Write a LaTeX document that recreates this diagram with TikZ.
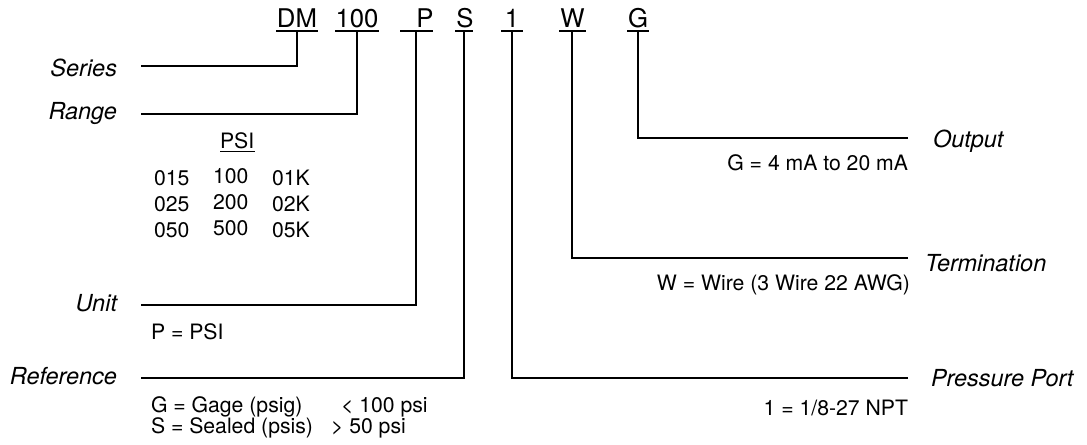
\documentclass[tikz,border=0pt]{standalone}
\usepackage{fontspec}
\setmainfont{TeX Gyre Heros}
\begin{document}
\begin{tikzpicture}[x=0.75pt,y=-0.75pt,
  lab/.style={font=\fontsize{17.6}{20}\selectfont\itshape, inner sep=0pt, outer sep=0pt},
  txt/.style={font=\fontsize{15.9}{19}\selectfont, inner sep=0pt, outer sep=0pt},
  code/.style={font=\fontsize{19.3}{23}\selectfont, inner sep=0pt, outer sep=0pt},
  wire/.style={line width=1.15pt, line cap=butt, line join=miter},
  uline/.style={line width=1pt}]
\useasboundingbox (0,0) rectangle (1087,444);

% --- code letters on top
\node[code, anchor=base] (cDM) at (297,27) {DM};
\node[code, anchor=base] (c100) at (357,27) {100};
\node[code, anchor=base] (cP) at (425,27) {P};
\node[code, anchor=base] (cS) at (465,27) {S};
\node[code, anchor=base] (c1) at (512,27) {1};
\node[code, anchor=base] (cW) at (572.5,27) {W};
\node[code, anchor=base] (cG) at (638,27) {G};

% underlines
\draw[uline] (276,31) -- (318,31);
\draw[uline] (335,31) -- (379,31);
\draw[uline] (400,31) -- (433,31);
\draw[uline] (455,31) -- (473,31);
\draw[uline] (501,31) -- (523,31);
\draw[uline] (559,31) -- (586,31);
\draw[uline] (627,31) -- (649,31);

% connector top points
\coordinate (uDM) at (297,31);
\coordinate (u100) at (357,31);
\coordinate (uP) at (416,31);
\coordinate (uS) at (464,31);
\coordinate (u1) at (512,31);
\coordinate (uW) at (572,31);
\coordinate (uG) at (638,31);

% line ends at the labels
\coordinate (eSeries) at (141,66);
\coordinate (eRange) at (141,114);
\coordinate (eUnit) at (141,305);
\coordinate (eRef) at (141,378);
\coordinate (eOut) at (908,138);
\coordinate (eTerm) at (908,258);
\coordinate (ePort) at (908,378);

% labels left
\node[lab, anchor=base east] (lSeries) at (117,76) {Series};
\node[lab, anchor=base east] (lRange) at (117,119) {Range};
\node[lab, anchor=base east] (lUnit) at (117,311) {Unit};
\node[lab, anchor=base east] (lRef) at (117,384) {Reference};
% labels right
\node[lab, anchor=base west] (lOut) at (933,147) {Output};
\node[lab, anchor=base west] (lTerm) at (925,271) {Termination};
\node[lab, anchor=base west] (lPort) at (931,386) {Pressure Port};

% connectors
\draw[wire] (eSeries) -| (uDM);
\draw[wire] (eRange) -| (u100);
\draw[wire] (eUnit) -| (uP);
\draw[wire] (eRef) -| (uS);
\draw[wire] (ePort) -| (u1);
\draw[wire] (eTerm) -| (uW);
\draw[wire] (eOut) -| (uG);

% PSI table
\node[txt, anchor=base west] (psi) at (220,148) {PSI};
\draw[uline] (220,151.5) -- (255,151.5);
\node[txt, anchor=base west] (r11) at (154,185) {015};
\node[txt, anchor=base west] (r12) at (213,183) {100};
\node[txt, anchor=base west] (r13) at (272,185) {01K};
\node[txt, anchor=base west] (r21) at (154,211) {025};
\node[txt, anchor=base west] (r22) at (213,209) {200};
\node[txt, anchor=base west] (r23) at (272,211) {02K};
\node[txt, anchor=base west] (r31) at (154,237) {050};
\node[txt, anchor=base west] (r32) at (213,235) {500};
\node[txt, anchor=base west] (r33) at (272,237) {05K};

% option texts
\node[txt, anchor=base west] (tUnit) at (151,339) {P = PSI};
\node[txt, anchor=base west] (tRefG) at (151,412) {G = Gage (psig)};
\node[txt, anchor=base west] (tRefGr) at (341,412) {< 100 psi};
\node[txt, anchor=base west] (tRefS) at (151,433) {S = Sealed (psis)};
\node[txt, anchor=base west] (tRefSr) at (331,433) {> 50 psi};
\node[txt, anchor=base east] (tOut) at (908,170) {G = 4 mA to 20 mA};
\node[txt, anchor=base east] (tTerm) at (910,290) {W = Wire (3 Wire 22 AWG)};
\node[txt, anchor=base east] (tPort) at (908,415) {1 = 1/8-27 NPT};
\end{tikzpicture}
\end{document}
